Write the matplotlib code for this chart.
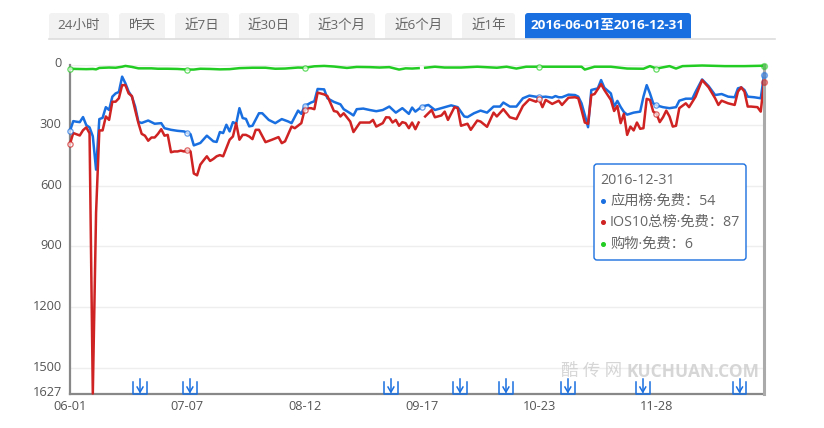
import matplotlib
matplotlib.use("Agg")
import matplotlib.pyplot as plt
from matplotlib.patches import FancyBboxPatch
from matplotlib.transforms import ScaledTranslation

plt.rcParams['font.family'] = ['Open Sans', 'Noto Sans CJK SC', 'DejaVu Sans']

BLUE = "#1a6fe0"
RED = "#cf2222"
GREEN = "#22cc22"
TEXT = "#666666"

tab_labels = ["24小时", "昨天", "近7日", "近30日", "近3个月", "近6个月", "近1年", "2016-06-01至2016-12-31"]
tab_edges = [(49, 109), (119, 165), (175, 229), (239, 299), (309, 375), (385, 452), (462, 515), (525, 691)]

x_tick_days = [0, 36, 72, 108, 144, 180]
x_tick_labels = ["06-01", "07-07", "08-12", "09-17", "10-23", "11-28"]
y_ticks = [0, 300, 600, 900, 1200, 1500, 1627]

# (day since 06-01, rank)
blue_points = [
    (0, 328), (1, 280), (2, 283), (3, 285), (4, 260), (5, 300), (6, 311), (7, 355), (8, 520), (9, 270),
    (10, 264), (11, 211), (12, 225), (13, 159), (14, 143), (15, 136), (16, 60), (17, 93), (18, 134), (19, 159),
    (20, 208), (21, 284), (22, 289), (24, 277), (26, 293), (28, 290), (29, 315), (31, 323), (33, 328), (35, 331),
    (36, 339), (37, 345), (38, 400), (40, 388), (42, 352), (44, 380), (45, 383), (46, 334), (47, 339), (48, 298),
    (49, 331), (50, 285), (51, 293), (52, 216), (53, 265), (54, 269), (55, 306), (56, 303), (58, 241), (59, 241),
    (61, 274), (63, 290), (65, 270), (67, 282), (68, 290), (70, 228), (71, 244), (72, 206), (74, 188), (75, 182),
    (76, 121), (78, 123), (79, 167), (81, 185), (83, 197), (84, 221), (86, 241), (87, 252), (88, 221), (90, 218),
    (92, 225), (94, 231), (96, 225), (98, 208), (100, 238), (102, 216), (104, 244), (105, 213), (106, 233), (108, 208),
    (110, 200), (112, 225), (114, 216), (117, 202), (119, 211), (121, 257), (122, 260), (124, 241), (126, 228), (128, 238),
    (130, 208), (132, 208), (133, 188), (135, 208), (137, 208), (139, 167), (141, 154), (144, 162), (146, 159), (148, 164),
    (149, 156), (150, 162), (151, 162), (153, 149), (155, 151), (156, 159), (157, 192), (158, 249), (159, 310), (160, 126),
    (161, 122), (162, 118), (163, 77), (164, 115), (166, 143), (167, 208), (168, 180), (169, 210), (170, 235), (171, 248),
    (173, 238), (175, 233), (176, 159), (177, 102), (178, 143), (179, 192), (180, 202), (182, 211), (184, 216), (186, 211),
    (187, 179), (189, 169), (191, 169), (192, 135), (194, 74), (196, 107), (198, 151), (200, 146), (202, 159), (204, 162),
    (205, 118), (206, 113), (207, 126), (208, 159), (210, 162), (212, 167), (213, 54),
]
red_points = [
    (0, 392), (1, 339), (3, 351), (4, 325), (5, 311), (6, 340), (7, 1627), (8, 733), (9, 326), (10, 326),
    (11, 257), (12, 274), (13, 184), (14, 184), (15, 167), (16, 102), (17, 102), (18, 143), (19, 156), (20, 225),
    (21, 290), (22, 343), (23, 352), (24, 377), (25, 361), (26, 361), (27, 343), (28, 320), (29, 352), (30, 348),
    (31, 434), (32, 430), (33, 430), (34, 426), (35, 430), (36, 425), (37, 430), (38, 539), (39, 548), (40, 495),
    (41, 474), (42, 454), (43, 477), (44, 467), (45, 454), (46, 448), (47, 454), (48, 413), (49, 372), (50, 356),
    (51, 290), (52, 372), (53, 348), (54, 348), (55, 356), (56, 369), (57, 323), (58, 323), (60, 384), (62, 372),
    (64, 359), (65, 389), (66, 380), (68, 307), (69, 315), (71, 290), (72, 225), (73, 216), (74, 216), (75, 221),
    (76, 139), (78, 148), (79, 156), (81, 230), (82, 234), (83, 257), (84, 241), (86, 282), (87, 334), (89, 287),
    (91, 287), (92, 287), (93, 274), (94, 307), (96, 290), (97, 261), (98, 262), (99, 287), (100, 274), (101, 303),
    (102, 285), (103, 290), (104, 315), (105, 287), (106, 320), (107, 287), (108, None),
    (109, 257), (111, 225), (112, 261), (114, 252), (115, 233), (116, 274), (118, 211), (119, 216), (120, 303), (122, 293),
    (123, 323), (125, 277), (126, 282), (128, 308), (130, 238), (131, 257), (133, 221), (135, 261), (137, 270), (139, 205),
    (141, 172), (143, 184), (144, 172), (145, 211), (146, 175), (148, 195), (150, 179), (151, 200), (153, 164), (155, 162),
    (156, 167), (157, 225), (158, 287), (159, 293), (160, 151), (161, 146), (163, 97), (164, 126), (166, 175), (167, 230),
    (168, 205), (169, 290), (170, 244), (171, 348), (172, 307), (173, 326), (174, 287), (175, 318), (176, 315), (177, 170),
    (178, 175), (179, 233), (180, 244), (181, 285), (182, 261), (183, 228), (184, 257), (185, 307), (186, 303), (187, 216),
    (189, 192), (190, 211), (192, 159), (194, 77), (196, 113), (198, 167), (199, 200), (200, 179), (202, 192), (204, 200),
    (205, 134), (206, 113), (207, 134), (208, 208), (209, 208), (211, 211), (212, 233), (213, 87),
]
green_points = [
    (0, 21), (2, 22), (5, 23), (7, 22), (8, 24), (9, 17), (12, 15), (14, 16), (16, 11), (17, 7),
    (19, 12), (21, 19), (23, 19), (25, 19), (27, 21), (30, 21), (33, 22), (36, 25), (38, 25), (40, 21),
    (43, 22), (46, 24), (49, 23), (52, 18), (56, 16), (60, 16), (63, 21), (66, 20), (70, 15), (72, 16),
    (75, 9), (78, 7), (81, 10), (85, 17), (88, 12), (92, 13), (95, 15), (98, 13), (101, 25), (103, 19),
    (105, 20), (107, 18), (108, None),
    (109, 16), (112, 11), (115, 15), (120, 15), (125, 11), (131, 16), (134, 11), (137, 20), (140, 11), (144, 11),
    (148, 11), (153, 11), (157, 11), (158, 25), (161, 11), (166, 11), (171, 20), (176, 21), (178, 8), (180, 20),
    (184, 8), (186, 20), (188, 8), (194, 5), (201, 8), (207, 8), (213, 6),
]

event_days = [21.5, 36.8, 98.5, 119.7, 133.8, 152.8, 175.8, 205.5]

tooltip_date = "2016-12-31"
tooltip_rows = [("应用榜·免费：54", BLUE), ("IOS10总榜·免费：87", RED), ("购物·免费：6", GREEN)]
watermark_cn = "酷 传 网"
watermark_en = "KUCHUAN.COM"

fig = plt.figure(figsize=(8.24, 4.28), dpi=100)
ax = fig.add_axes([70 / 824, 1 - 393.5 / 428, 694 / 824, 329 / 428])
ax.set_xlim(0, 213)
ax.set_ylim(1627, 0)


def draw_series(points, color):
    days = [p[0] for p in points]
    ranks = [float("nan") if p[1] is None else p[1] for p in points]
    ax.plot(days, ranks, color=color, lw=1.8, clip_on=False, zorder=3, solid_joinstyle="round")
    for d in x_tick_days:
        if d in days and ranks[days.index(d)] == ranks[days.index(d)]:
            ax.plot(d, ranks[days.index(d)], "o", ms=3.8, mfc="white", mec=color, mew=0.9,
                    alpha=0.7, clip_on=False, zorder=4)
    ax.plot(days[-1], ranks[-1], "o", ms=4.2, color=color, alpha=0.5, clip_on=False, zorder=6)


ax.axvline(213, color="#aaaaaa", lw=2.2, zorder=5, clip_on=False)
draw_series(blue_points, BLUE)
draw_series(red_points, RED)
draw_series(green_points, GREEN)

for s in ["top", "right"]:
    ax.spines[s].set_visible(False)
for s in ["left", "bottom"]:
    ax.spines[s].set_color("#888888")
    ax.spines[s].set_linewidth(1.6)
ax.set_xticks(x_tick_days)
ax.set_xticklabels(x_tick_labels)
ax.set_yticks(y_ticks)
ax.tick_params(length=0, labelsize=9.2, labelcolor="#555555", pad=6)
ax.tick_params(axis="x", pad=5)
ax.grid(axis="y", color="#eeeeee", lw=1)
ax.set_axisbelow(True)
for label in ax.get_yticklabels():
    label.set_transform(label.get_transform() + ScaledTranslation(0, 1.5 / 72, fig.dpi_scale_trans))

# download markers along the bottom
for d in event_days:
    ax.plot([d - 2.1, d - 2.1, d + 2.1, d + 2.1], [1570, 1627, 1627, 1570], color=BLUE, lw=1.1, zorder=6, clip_on=False)
    ax.plot([d, d], [1555, 1620], color=BLUE, lw=1.1, zorder=6)
    ax.plot([d - 0.9, d, d + 0.9], [1595, 1620, 1595], color=BLUE, lw=1.1, zorder=6)

# page furniture, in pixel coordinates
ui = fig.add_axes([0, 0, 1, 1], zorder=5)
ui.set_xlim(0, 824)
ui.set_ylim(428, 0)
ui.axis("off")

for i, (label, (x0, x1)) in enumerate(zip(tab_labels, tab_edges)):
    active = i == len(tab_labels) - 1
    ui.add_patch(FancyBboxPatch((x0 + 3, 16), x1 - x0 - 6, 26, boxstyle="round,pad=3,rounding_size=3",
                                fc=BLUE if active else "#f2f2f2", ec="none"))
    ui.text((x0 + x1) / 2, 25, label, ha="center", va="center", fontsize=9.7,
            color="white" if active else TEXT, fontweight="bold" if active else "normal")
ui.fill_between([40, 790], 39, 46, color="white", zorder=2)
ui.plot([49, 775], [38.5, 38.5], color="#dddddd", lw=1.2, zorder=3)

ui.add_patch(FancyBboxPatch((596, 166), 148, 92, boxstyle="round,pad=2,rounding_size=3",
                            fc="white", ec=BLUE, lw=1, zorder=6))
ui.text(600, 180, tooltip_date, fontsize=10.3, color=TEXT, va="center", zorder=7)
for y, (row, color) in zip([201, 222, 244], tooltip_rows):
    ui.plot(603, y, "o", ms=2.6, color=color, zorder=7)
    ui.text(610, y, row, fontsize=10.3, color=TEXT, va="center", zorder=7)

ui.text(561, 372, watermark_cn, fontsize=12.5, color="#cccccc", alpha=0.8, va="center", zorder=7)
ui.text(627, 372, watermark_en, fontsize=12.5, color="#cccccc", alpha=0.8, va="center",
        fontweight="bold", zorder=7)

fig.savefig("out.png", dpi=100)
